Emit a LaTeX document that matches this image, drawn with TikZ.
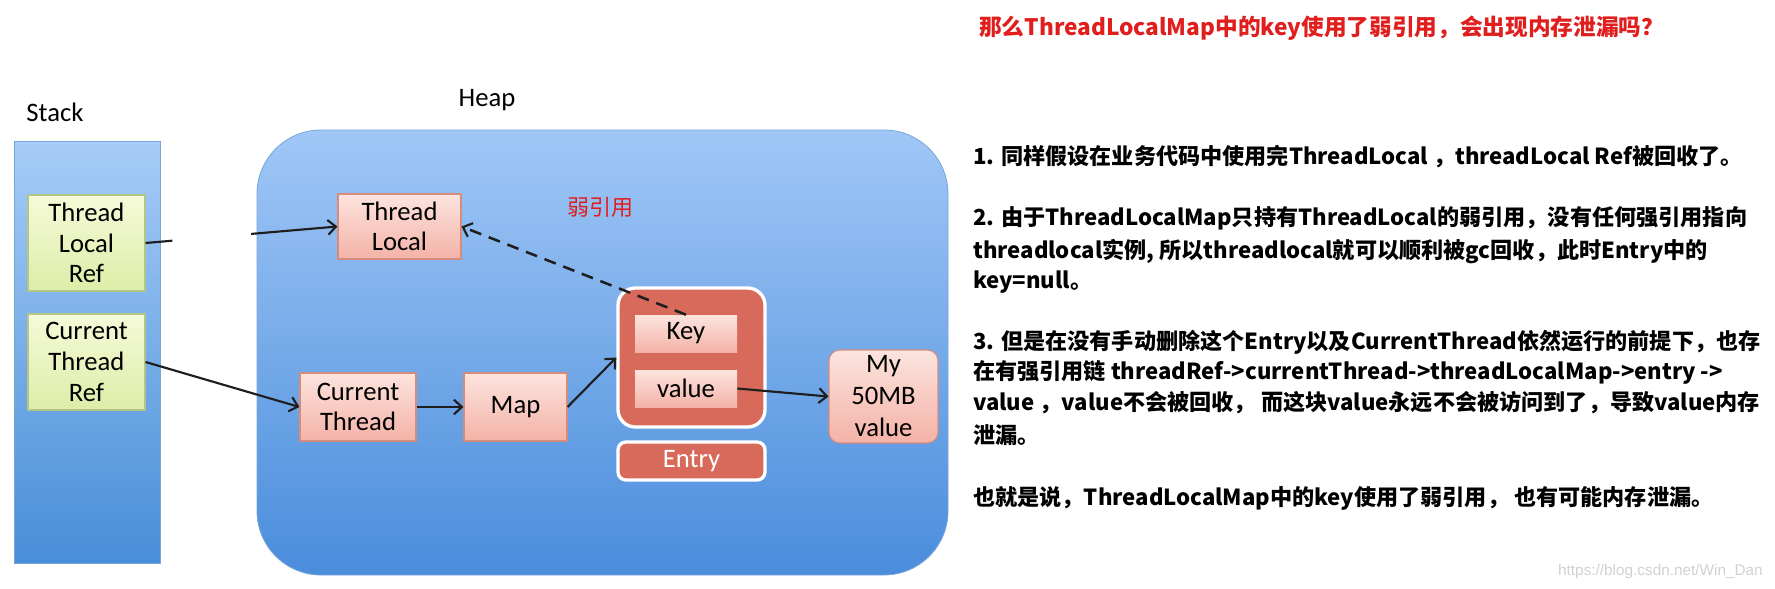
\documentclass[tikz,border=0pt]{standalone}
\usepackage{fontspec}
\setmainfont{Carlito}
\newfontfamily\cjk{Noto Sans CJK SC}
\newfontfamily\urlfont{Liberation Sans}
\usetikzlibrary{positioning,calc,arrows.meta}
\definecolor{stacktop}{RGB}{166,204,247}
\definecolor{stackbot}{RGB}{72,142,216}
\definecolor{heaptop}{RGB}{160,199,246}
\definecolor{heapbot}{RGB}{74,141,220}
\definecolor{pinktop}{RGB}{252,228,222}
\definecolor{pinkbot}{RGB}{244,178,167}
\definecolor{pinkline}{RGB}{214,140,124}
\definecolor{greentop}{RGB}{245,250,216}
\definecolor{greenbot}{RGB}{221,237,168}
\definecolor{greenline}{RGB}{178,198,136}
\definecolor{entryred}{RGB}{215,106,90}
\definecolor{notered}{RGB}{225,30,30}
\definecolor{arrowcol}{RGB}{30,30,30}

\begin{document}
\begin{tikzpicture}[x=0.75pt, y=-0.75pt,
  lbl/.style={font=\fontsize{20}{23}\selectfont, align=center, inner sep=0pt},
  refbox/.style={lbl, draw=greenline, line width=0.8pt, top color=greentop, bottom color=greenbot, minimum width=87.75pt, minimum height=72pt},
  objbox/.style={lbl, draw=pinkline, line width=0.8pt, top color=pinktop, bottom color=pinkbot, minimum height=51pt},
  slotbox/.style={lbl, top color=pinktop, bottom color=pinkbot, minimum width=76.5pt, minimum height=27.75pt},
  conn/.style={draw=arrowcol, line width=1.6pt, -{Straight Barb[length=6pt, width=11pt, line width=1.6pt]}},
  weakconn/.style={conn, line width=1.9pt, dash pattern=on 9pt off 6pt},
  txt/.style={font=\cjk\bfseries\fontsize{16.6}{19}\selectfont, anchor=west, inner sep=0pt}
]
\useasboundingbox (0,0) rectangle (1775,589);

% Stack and Heap areas
\shade[top color=stacktop, bottom color=stackbot, draw={rgb,255:red,120;green,165;blue,215}, line width=0.6pt] (14,141) rectangle (160,563);
\shade[top color=heaptop, bottom color=heapbot, draw={rgb,255:red,120;green,165;blue,220}, line width=0.6pt, rounded corners=48pt] (257,130) rectangle (948,575);
\node[lbl] (stacklbl) at (55,112) {Stack};
\node[lbl] (heaplbl) at (487,100) {Heap};

% Stack references
\node[refbox] (tlref) at (86.5,243) {Thread\\Local\\Ref};
\node[refbox] (ctref) at (86.5,362) {Current\\Thread\\Ref};

% Heap objects
\node[objbox, minimum width=92.25pt, minimum height=48.75pt] (tl) at (399.5,226.5) {Thread\\Local};
\node[objbox, minimum width=87pt] (ct) at (358,407) {Current\\Thread};
\node[objbox, minimum width=77.25pt] (map) at (515.5,407) {Map};
\node[draw=white, line width=2.5pt, fill=entryred, rounded corners=13pt, minimum width=110.25pt, minimum height=104.25pt] (entry) at (691.5,357.5) {};
\node[slotbox] (key) at (686,333.5) {Key};
\node[slotbox] (val) at (686,388.5) {value};
\node[lbl, text=white, draw=white, line width=2.5pt, fill=entryred, rounded corners=6pt, minimum width=110.25pt, minimum height=28.5pt] (entrylbl) at (691.5,461) {Entry};
\node[objbox, rounded corners=8pt, minimum width=81.75pt, minimum height=69.75pt, font=\fontsize{20}{24}\selectfont] (big) at (883.5,396.5) {My\\50MB\\value};
\node[font=\cjk\fontsize{16.5}{18}\selectfont, text=notered, inner sep=0pt] (weaklbl) at (600,207) {弱引用};

% References
\coordinate (cutA) at ($(tlref.east)!0.14!(tl.west)$);
\coordinate (cutB) at ($(tlref.east)!0.55!(tl.west)$);
\draw[draw=arrowcol, line width=1.6pt] (tlref.east) -- (cutA);
\draw[conn] (cutB) -- (tl.west);
\draw[conn] (ctref.east) -- (ct.west);
\draw[conn] (ct.east) -- (map.west);
\draw[conn] (map.east) -- (entry.west);
\draw[conn] (val.east) -- (big.west);
\draw[weakconn] (key.north) -- (tl.east);

% Notes
\node[txt, text=notered, font=\cjk\bfseries\fontsize{17}{19}\selectfont] (title) at (979,28) {那么ThreadLocalMap中的key使用了弱引用，会出现内存泄漏吗？};
\node[txt] (p1) at (973,157) {1. 同样假设在业务代码中使用完ThreadLocal ，threadLocal Ref被回收了。};
\node[txt] (p2a) at (973,218) {2. 由于ThreadLocalMap只持有ThreadLocal的弱引用，没有任何强引用指向};
\node[txt] (p2b) at (973,252) {threadlocal实例, 所以threadlocal就可以顺利被gc回收，此时Entry中的};
\node[txt] (p2c) at (973,282) {key=null。};
\node[txt] (p3a) at (973,342) {3. 但是在没有手动删除这个Entry以及CurrentThread依然运行的前提下，也存};
\node[txt] (p3b) at (973,372) {在有强引用链 threadRef->currentThread->threadLocalMap->entry ->};
\node[txt] (p3c) at (973,403) {value ，value不会被回收， 而这块value永远不会被访问到了，导致value内存};
\node[txt] (p3d) at (973,435) {泄漏。};
\node[txt] (p4) at (973,498) {也就是说，ThreadLocalMap中的key使用了弱引用， 也有可能内存泄漏。};
\node[font=\urlfont\fontsize{11.5}{13}\selectfont, text=black!18, anchor=east, inner sep=0pt] (mark) at (1763,572) {https://blog.csdn.net/Win\_Dan};
\end{tikzpicture}
\end{document}
